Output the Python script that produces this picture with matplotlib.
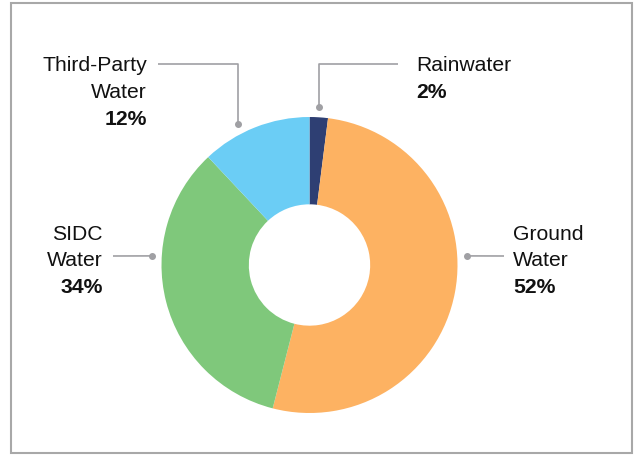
import matplotlib.pyplot as plt
from matplotlib.patches import Rectangle
import numpy as np

plt.rcParams['font.family'] = ['Liberation Sans', 'DejaVu Sans']

# Data
sources = ['Rainwater', 'Ground\nWater', 'SIDC\nWater', 'Third-Party\nWater']
shares = [2, 52, 34, 12]
colors = ['#2e3f73', '#fdb262', '#7fc87b', '#6bcdf5']

# Figure in pixel coordinates (y down)
fig = plt.figure(figsize=(6.42, 4.55), dpi=100)
ax = fig.add_axes([0, 0, 1, 1])

cx, cy, r = 309.5, 265, 148
wedges, _ = ax.pie(shares, colors=colors, startangle=90, counterclock=False,
                   center=(cx, -cy), radius=r, frame=True,
                   wedgeprops=dict(width=r * 0.59, edgecolor='none'))
ax.set_xlim(0, 642)
ax.set_ylim(-455, 0)
ax.set_aspect('equal')
ax.axis('off')

# frame around chart
ax.add_patch(Rectangle((11, -453), 621, 450, fill=False, edgecolor='#a8a8a8', lw=1.5))

# label layout: connector angle, elbow point, text anchor
mid_rain = 90 - shares[0] / 100 * 360 / 2
layout = [
    dict(angle=mid_rain, elbow=(319, 64), end=(398, 64), tx=416, ty=65.5, ha='left'),
    dict(angle=3.3, elbow=None, end=(504, 256), tx=513, ty=234, ha='left'),
    dict(angle=176.7, elbow=None, end=(113, 256), tx=103, ty=234, ha='right'),
    dict(angle=117, elbow=(237, 64), end=(158, 64), tx=147, ty=65.5, ha='right'),
]

line_gap = 26.8
for name, val, lay in zip(sources, shares, layout):
    a = np.deg2rad(lay['angle'])
    rr = 158
    dx, dy = cx + rr * np.cos(a), cy - rr * np.sin(a)
    pts = [(dx, dy)]
    if lay['elbow'] is not None:
        pts.append((dx, lay['elbow'][1]))
    pts.append(lay['end'])
    xs = [p[0] for p in pts]
    ys = [-p[1] for p in pts]
    ax.plot(xs, ys, color='#a0a0a4', lw=1.2, solid_capstyle='butt')
    ax.plot(dx, -dy, 'o', color='#a0a0a4', ms=4)

    lines = name.split('\n')
    for i, ln in enumerate(lines):
        ax.text(lay['tx'], -(lay['ty'] + i * line_gap), ln, ha=lay['ha'], va='center',
                fontsize=15.2, color='#111111')
    ax.text(lay['tx'], -(lay['ty'] + len(lines) * line_gap), f'{val}%', ha=lay['ha'],
            va='center', fontsize=15.2, fontweight='bold', color='#111111')

fig.savefig('out.png', dpi=100)
